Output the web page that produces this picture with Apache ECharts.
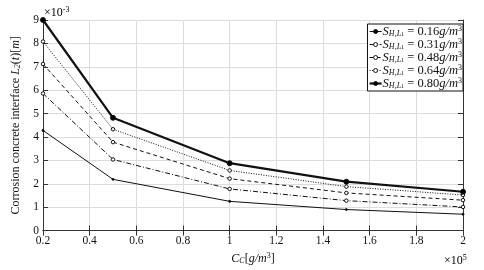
<!DOCTYPE html>
<html><head><meta charset="utf-8">
<script src="https://cdn.jsdelivr.net/npm/echarts@6/dist/echarts.min.js"></script>
<style>html,body{margin:0;padding:0;background:#fff}#c{width:484px;height:270px}</style>
</head><body><div id="c"></div>
<script>
// x values (×10^5 g/m^3)
const xValues = [0.2, 0.5, 1, 1.5, 2];
// L2(t) values (×10^-3 m)
const s016 = [4.28, 2.19, 1.25, 0.90, 0.70];
const s031 = [5.86, 3.04, 1.78, 1.28, 1.01];
const s048 = [7.12, 3.78, 2.22, 1.61, 1.30];
const s064 = [8.08, 4.33, 2.57, 1.88, 1.52];
const s080 = [9.00, 4.82, 2.88, 2.09, 1.66];
const seriesNames = ['0.16', '0.31', '0.48', '0.64', '0.80'];
const xTicks = [0.2, 0.4, 0.6, 0.8, 1, 1.2, 1.4, 1.6, 1.8, 2];
const yTicks = [0, 1, 2, 3, 4, 5, 6, 7, 8, 9];

const serif = 'Liberation Serif';
const chart = echarts.init(document.getElementById('c'), null, {renderer: 'canvas'});
const allData = [s016, s031, s048, s064, s080];
const styles = [
  {w: 1, type: 'solid', size: 2, fill: '#000'},
  {w: 1, type: [5, 2, 1, 2], size: 3.5, fill: '#fff'},
  {w: 1, type: [4, 3], size: 3.5, fill: '#fff'},
  {w: 1, type: [1, 1.5], size: 3.5, fill: '#fff'},
  {w: 2.2, type: 'solid', size: 5, fill: '#000'}
];
const series = allData.map((d, i) => ({
  name: seriesNames[i],
  type: 'line',
  data: d.map((v, j) => [xValues[j], v]),
  symbol: 'circle',
  symbolSize: styles[i].size,
  showSymbol: true,
  lineStyle: {color: '#111', width: styles[i].w, type: styles[i].type},
  itemStyle: {color: styles[i].fill, borderColor: '#111', borderWidth: 1},
  emphasis: {disabled: true},
  animation: false,
  z: 3
}));

const rich = {
  t: {fontFamily: serif, fontSize: 12, color: '#111'},
  i: {fontFamily: serif, fontSize: 12, fontStyle: 'italic', color: '#111'},
  sub: {fontFamily: serif, fontSize: 8, fontStyle: 'italic', color: '#111', padding: [5, 0, 0, 0]},
  sub2: {fontFamily: serif, fontSize: 6, color: '#111', padding: [7, 0, 0, 0]},
  sup: {fontFamily: serif, fontSize: 8, color: '#111', padding: [0, 0, 6, 0]}
};
const lrich = {
  t: {fontFamily: serif, fontSize: 12.5, color: '#111', lineHeight: 12},
  i: {fontFamily: serif, fontSize: 12.5, fontStyle: 'italic', color: '#111', lineHeight: 12},
  sub: {fontFamily: serif, fontSize: 8, fontStyle: 'italic', color: '#111', padding: [4, 0, 0, 0], lineHeight: 12},
  sub2: {fontFamily: serif, fontSize: 6, color: '#111', padding: [6, 0, 0, 0], lineHeight: 12},
  sup: {fontFamily: serif, fontSize: 8, color: '#111', padding: [0, 0, 5, 0], lineHeight: 12}
};

chart.setOption({
  backgroundColor: '#fff',
  animation: false,
  grid: {left: 43, right: 21, top: 20, bottom: 35},
  legend: {
    orient: 'vertical',
    right: 21,
    top: 24,
    itemWidth: 12,
    itemHeight: 5,
    itemGap: 0,
    padding: [1, 1, 1, 1],
    borderColor: '#111',
    borderWidth: 1,
    backgroundColor: '#fff',
    data: seriesNames.map((n, i) => ({
      name: n,
      itemStyle: {color: styles[i].fill, borderColor: '#111', borderWidth: 1},
      lineStyle: {color: '#111', width: styles[i].w, type: styles[i].type}
    })),
    formatter: n => '{i|S}{sub|H,L}{sub2|1}{t| = ' + n + '}{i|g/m}{sup|3}',
    textStyle: {rich: lrich, padding: [0, 0, 0, -4]}
  },
  xAxis: [{
    type: 'value', min: 0.2, max: 2, interval: 0.2,
    axisLine: {show: true, lineStyle: {color: '#333'}},
    axisTick: {inside: true, length: 5, lineStyle: {color: '#333'}},
    axisLabel: {fontFamily: serif, fontSize: 11.5, color: '#111', margin: 4,
      formatter: v => String(Math.round(v * 10) / 10)},
    splitLine: {show: true, lineStyle: {color: '#dcdcdc'}},
    name: '{i|C}{sub|C}{t|[}{i|g/m}{sup|3}{t|]}',
    nameLocation: 'middle', nameGap: 20,
    nameTextStyle: {rich: rich}
  }, {
    type: 'value', min: 0.2, max: 2, interval: 0.2, position: 'top',
    axisLine: {show: true, lineStyle: {color: '#333'}},
    axisTick: {inside: true, length: 5, lineStyle: {color: '#333'}},
    axisLabel: {show: false}, splitLine: {show: false}
  }],
  yAxis: [{
    type: 'value', min: 0, max: 9, interval: 1,
    axisLine: {show: true, lineStyle: {color: '#333'}},
    axisTick: {inside: true, length: 5, lineStyle: {color: '#333'}},
    axisLabel: {fontFamily: serif, fontSize: 11.5, color: '#111', margin: 4},
    splitLine: {show: true, lineStyle: {color: '#dcdcdc'}},
    name: '{t|Corrosion concrete interface }{i|L}{sub|2}{t|(}{i|t}{t|)[}{i|m}{t|]}',
    nameLocation: 'middle', nameGap: 13,
    nameTextStyle: {rich: rich}
  }, {
    type: 'value', min: 0, max: 9, interval: 1, position: 'right',
    axisLine: {show: true, lineStyle: {color: '#333'}},
    axisTick: {inside: true, length: 5, lineStyle: {color: '#333'}},
    axisLabel: {show: false}, splitLine: {show: false}
  }],
  graphic: [
    {type: 'text', left: 44, top: 6, style: {text: '{t|×10}{sup|-3}', rich: rich}},
    {type: 'text', left: 444, top: 254, style: {text: '{t|×10}{sup|5}', rich: rich}}
  ],
  series: series
});
</script>
</body></html>
